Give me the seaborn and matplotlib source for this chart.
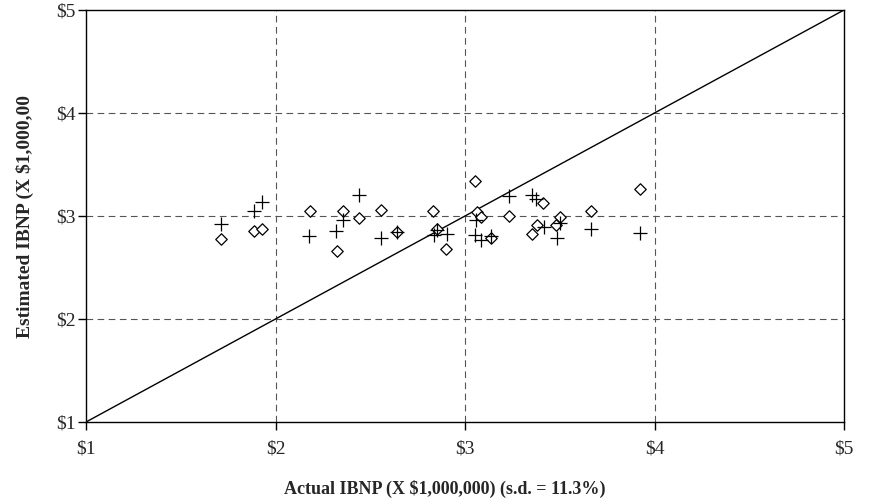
import matplotlib
matplotlib.use("Agg")
import matplotlib.pyplot as plt
import seaborn as sns
import pandas as pd

# Actual vs estimated IBNP ($ millions), two estimation methods
plus_actual = [1.711, 1.888, 1.927, 2.178, 2.319, 2.358, 2.441, 2.557, 2.641, 2.836, 2.851,
               2.903, 3.056, 3.053, 3.084, 3.137, 3.232, 3.352, 3.377, 3.417, 3.501, 3.484,
               3.663, 3.925]
plus_est = [2.922, 3.049, 3.133, 2.806, 2.854, 2.961, 3.204, 2.789, 2.848, 2.816, 2.860,
            2.822, 2.961, 2.816, 2.767, 2.806, 3.199, 3.207, 3.162, 2.890, 2.932, 2.784,
            2.871, 2.835]

diamond_actual = [1.711, 1.888, 1.927, 2.180, 2.322, 2.358, 2.442, 2.558, 2.641, 2.833, 2.851,
                  2.902, 3.053, 3.063, 3.084, 3.135, 3.231, 3.414, 3.382, 3.354, 3.499, 3.479,
                  3.665, 3.925]
diamond_est = [2.774, 2.859, 2.871, 3.051, 2.663, 3.051, 2.976, 3.058, 2.848, 3.049, 2.869,
               2.675, 3.343, 3.034, 2.988, 2.789, 3.000, 3.131, 2.913, 2.825, 2.993, 2.917,
               3.049, 3.259]

diag = [1, 5]
ticks = [1, 2, 3, 4, 5]
tick_labels = ["$1", "$2", "$3", "$4", "$5"]
x_label = "Actual IBNP (X $1,000,000) (s.d. = 11.3%)"
y_label = "Estimated IBNP (X $1,000,00"

sns.set_style("white")
plt.rcParams["font.family"] = ["Liberation Serif", "DejaVu Serif"]
plt.rcParams["mathtext.default"] = "regular"

fig = plt.figure(figsize=(8.72, 5.01), dpi=100)
ax = fig.add_axes([86 / 872, 1 - 422 / 501, (844 - 86) / 872, (422 - 10) / 501])

grid_kw = dict(color="#555555", linewidth=0.8, linestyle=(0, (6, 4)), zorder=1)
for t in ticks[1:-1]:
    ax.axhline(t, **grid_kw)
    ax.axvline(t, **grid_kw)

sns.lineplot(x=diag, y=diag, color="black", linewidth=1.0, ax=ax, zorder=2)

df_p = pd.DataFrame({"actual": plus_actual, "est": plus_est})
df_d = pd.DataFrame({"actual": diamond_actual, "est": diamond_est})

sns.scatterplot(data=df_d, x="actual", y="est", marker="D", s=34,
                facecolor="white", edgecolor="black", linewidth=0.9, ax=ax, zorder=3)
sns.scatterplot(data=df_p, x="actual", y="est", marker="+", s=90,
                color="black", linewidth=0.9, ax=ax, zorder=4)

ax.set_xlim(1, 5)
ax.set_ylim(1, 5)
ax.set_xticks(ticks)
ax.set_yticks(ticks)
ax.set_xticklabels(tick_labels, fontsize=14)
ax.set_yticklabels(tick_labels, fontsize=14)
ax.tick_params(axis="both", direction="out", length=5.5, width=1, color="black",
               bottom=True, left=True, pad=2)
ax.tick_params(axis="x", pad=8)

for s in ax.spines.values():
    s.set_color("black")
    s.set_linewidth(1.0)

ax.set_xlabel("")
ax.set_ylabel("")
fig.text(445 / 872, 1 - 489 / 501, x_label, fontsize=13, fontweight="bold",
         ha="center", va="center")
fig.text(25 / 872, 1 - 216 / 501, y_label, fontsize=14, fontweight="bold",
         ha="center", va="center", rotation=90)

fig.savefig("out.png", dpi=100)
